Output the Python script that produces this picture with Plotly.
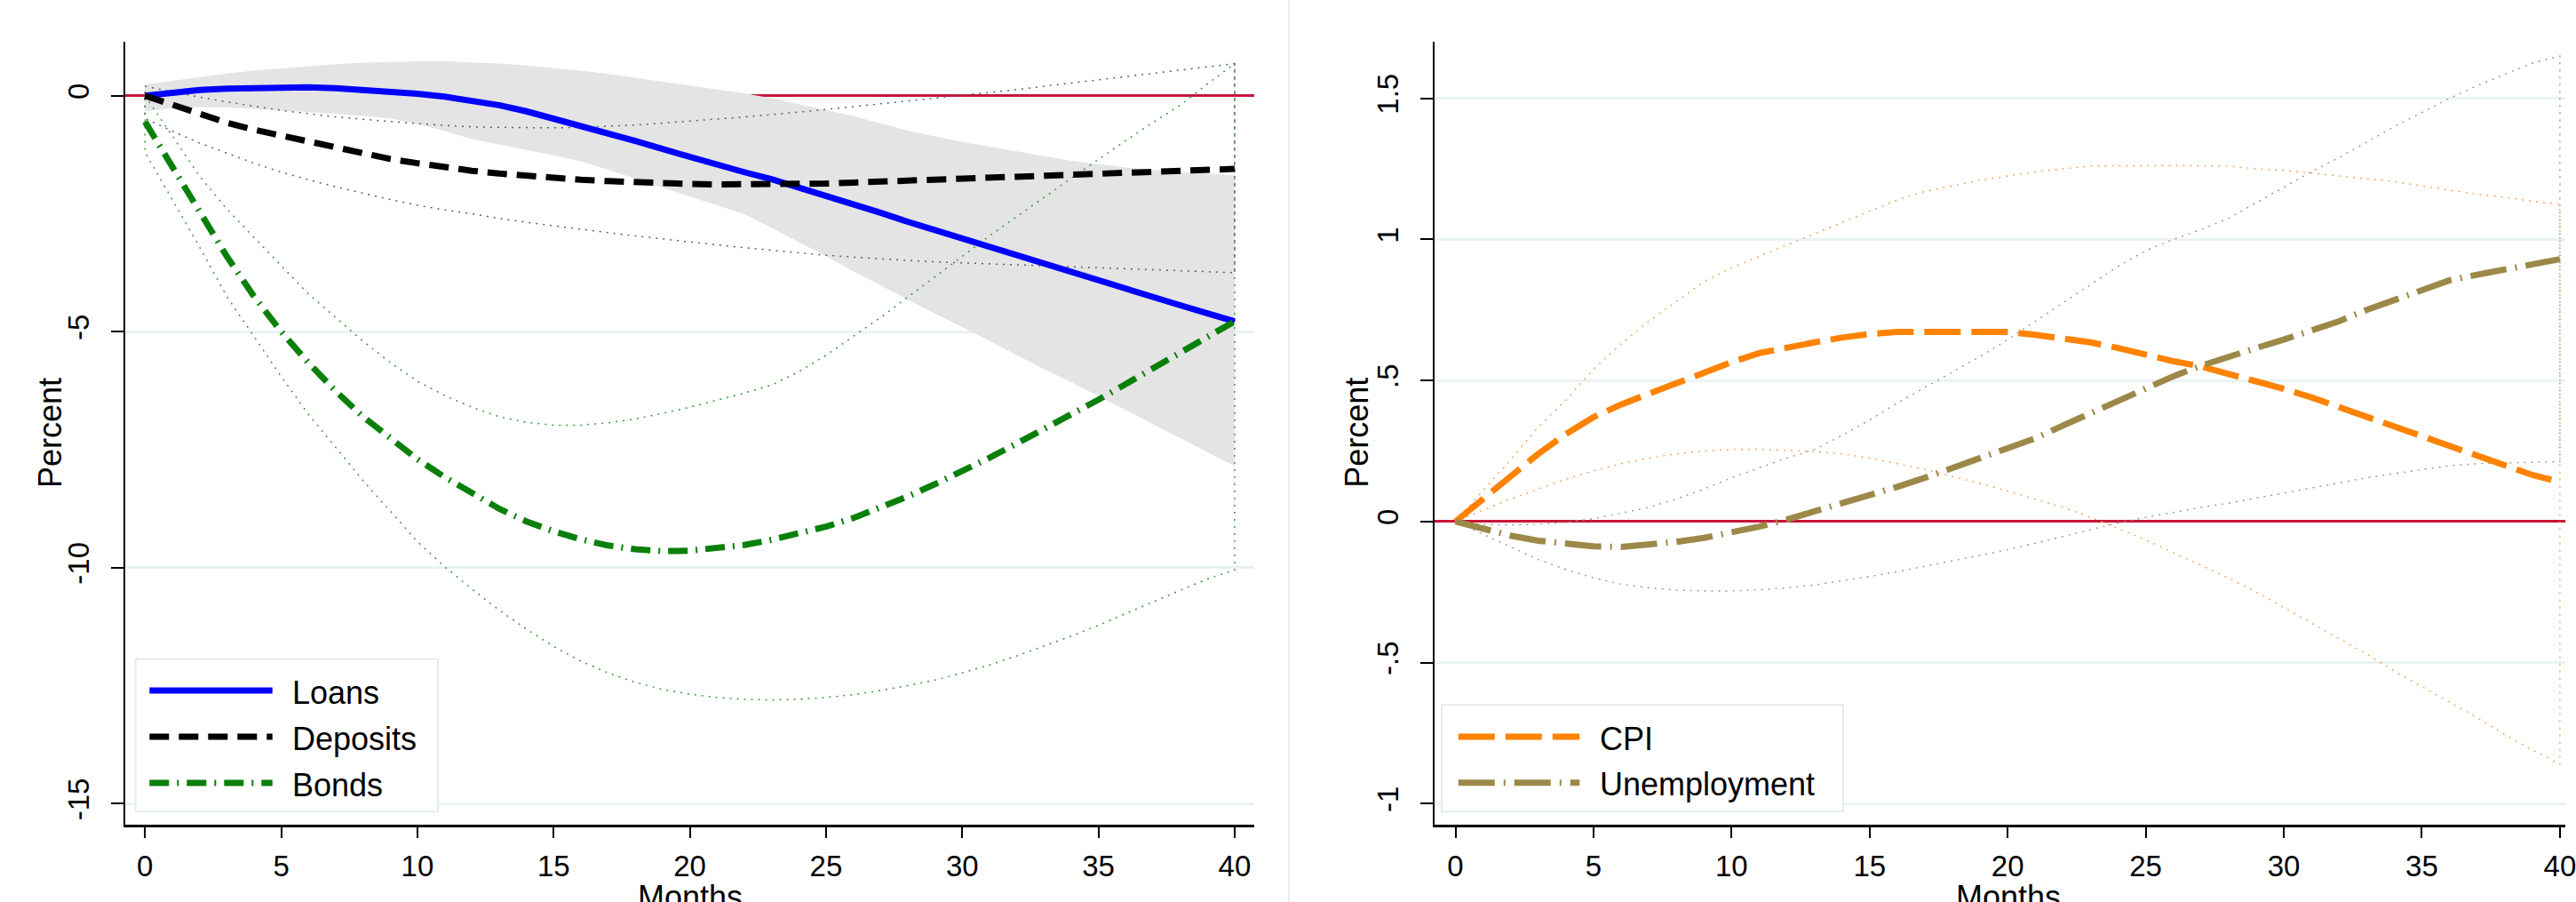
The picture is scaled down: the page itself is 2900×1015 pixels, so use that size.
import plotly.graph_objects as go

W, H = 2900, 1015

months = list(range(41))

# ---------------- Left panel data ----------------
loans = [0.0, 0.07, 0.12, 0.15, 0.17, 0.18, 0.18, 0.16, 0.13, 0.09, 0.04, -0.02, -0.1, -0.2, -0.33,
         -0.48, -0.65, -0.8, -0.96, -1.13, -1.3, -1.46, -1.62, -1.77, -1.94, -2.12, -2.3, -2.48, -2.67,
         -2.85, -3.03, -3.21, -3.39, -3.57, -3.75, -3.92, -4.1, -4.27, -4.44, -4.61, -4.78]
loans_hi = [0.24, 0.32, 0.4, 0.47, 0.53, 0.58, 0.63, 0.67, 0.7, 0.72, 0.73, 0.73, 0.71, 0.68, 0.64,
            0.59, 0.53, 0.46, 0.38, 0.3, 0.22, 0.13, 0.05, -0.05, -0.17, -0.3, -0.43, -0.58, -0.74,
            -0.86, -0.98, -1.08, -1.18, -1.28, -1.38, -1.45, -1.52, -1.57, -1.62, -1.65, -1.68]
loans_lo = [-0.33, -0.27, -0.24, -0.25, -0.28, -0.31, -0.34, -0.38, -0.43, -0.48, -0.6, -0.75, -0.92,
            -1.04, -1.15, -1.26, -1.39, -1.57, -1.76, -1.95, -2.13, -2.32, -2.51, -2.8, -3.1, -3.4,
            -3.72, -4.02, -4.33, -4.62, -4.9, -5.2, -5.5, -5.79, -6.07, -6.36, -6.66, -6.96, -7.25,
            -7.55, -7.85]

deposits = [0.0, -0.2, -0.4, -0.57, -0.72, -0.84, -0.96, -1.1, -1.23, -1.34, -1.43, -1.52, -1.59,
            -1.65, -1.7, -1.74, -1.78, -1.81, -1.84, -1.86, -1.87, -1.88, -1.88, -1.88, -1.87, -1.86,
            -1.84, -1.82, -1.8, -1.78, -1.76, -1.74, -1.72, -1.7, -1.68, -1.66, -1.64, -1.62, -1.6,
            -1.57, -1.55]
deposits_hi = [0.2, 0.08, -0.03, -0.13, -0.22, -0.31, -0.38, -0.45, -0.5, -0.55, -0.59, -0.63, -0.66,
               -0.67, -0.68, -0.68, -0.67, -0.65, -0.62, -0.58, -0.54, -0.5, -0.45, -0.4, -0.35, -0.29,
               -0.23, -0.17, -0.11, -0.05, 0.0, 0.06, 0.13, 0.2, 0.27, 0.33, 0.4, 0.47, 0.54, 0.61, 0.68]
deposits_lo = [-0.48, -0.75, -1.0, -1.22, -1.43, -1.62, -1.78, -1.93, -2.07, -2.2, -2.32, -2.42, -2.5,
               -2.6, -2.68, -2.76, -2.83, -2.9, -2.97, -3.04, -3.1, -3.16, -3.22, -3.28, -3.33, -3.38,
               -3.42, -3.46, -3.49, -3.52, -3.55, -3.57, -3.59, -3.61, -3.63, -3.65, -3.67, -3.69,
               -3.71, -3.73, -3.75]

bonds = [-0.55, -1.5, -2.47, -3.4, -4.25, -5.0, -5.66, -6.26, -6.8, -7.26, -7.7, -8.08, -8.42, -8.75,
         -9.02, -9.23, -9.4, -9.53, -9.61, -9.65, -9.64, -9.59, -9.52, -9.41, -9.28, -9.13, -8.95,
         -8.73, -8.49, -8.23, -7.96, -7.67, -7.37, -7.07, -6.76, -6.44, -6.11, -5.78, -5.45, -5.11,
         -4.78]
bonds_hi = [0.0, -0.85, -1.7, -2.4, -3.0, -3.6, -4.2, -4.7, -5.2, -5.65, -6.05, -6.35, -6.6, -6.8,
            -6.92, -6.98, -6.98, -6.93, -6.85, -6.73, -6.6, -6.45, -6.3, -6.13, -5.85, -5.5, -5.1,
            -4.7, -4.27, -3.84, -3.4, -2.97, -2.56, -2.15, -1.75, -1.35, -0.95, -0.57, -0.2, 0.25, 0.68]
bonds_lo = [-1.2, -2.2, -3.2, -4.25, -5.1, -5.95, -6.75, -7.45, -8.15, -8.8, -9.45, -9.98, -10.45,
            -10.9, -11.3, -11.67, -11.98, -12.23, -12.43, -12.58, -12.68, -12.75, -12.79, -12.8,
            -12.79, -12.75, -12.69, -12.6, -12.5, -12.38, -12.23, -12.06, -11.87, -11.66, -11.45,
            -11.22, -10.98, -10.73, -10.48, -10.24, -10.05]

# ---------------- Right panel data ----------------
cpi = [0.0, 0.08, 0.165, 0.24, 0.31, 0.37, 0.415, 0.455, 0.49, 0.527, 0.565, 0.597, 0.618, 0.635,
       0.652, 0.665, 0.672, 0.673, 0.673, 0.673, 0.672, 0.662, 0.65, 0.635, 0.615, 0.59, 0.568, 0.55,
       0.525, 0.497, 0.47, 0.44, 0.405, 0.372, 0.34, 0.3, 0.268, 0.235, 0.2, 0.165, 0.14]
cpi_hi = [0.0, 0.11, 0.22, 0.335, 0.43, 0.54, 0.63, 0.71, 0.78, 0.85, 0.9, 0.94, 0.98, 1.02, 1.06,
          1.1, 1.14, 1.17, 1.19, 1.21, 1.225, 1.24, 1.25, 1.26, 1.261, 1.262, 1.262, 1.261, 1.26,
          1.25, 1.245, 1.235, 1.225, 1.215, 1.205, 1.19, 1.175, 1.16, 1.15, 1.135, 1.125]
cpi_lo = [0.0, 0.04, 0.08, 0.115, 0.15, 0.18, 0.205, 0.225, 0.24, 0.25, 0.255, 0.256, 0.252, 0.248,
          0.24, 0.225, 0.205, 0.185, 0.16, 0.135, 0.108, 0.08, 0.05, 0.015, -0.025, -0.065, -0.11,
          -0.155, -0.2, -0.25, -0.305, -0.36, -0.415, -0.47, -0.53, -0.585, -0.64, -0.695, -0.755,
          -0.81, -0.86]

unemp = [0.0, -0.027, -0.05, -0.068, -0.08, -0.088, -0.09, -0.083, -0.072, -0.058, -0.04, -0.018,
         0.007, 0.035, 0.065, 0.095, 0.123, 0.155, 0.19, 0.223, 0.256, 0.295, 0.34, 0.385, 0.43,
         0.475, 0.515, 0.552, 0.585, 0.615, 0.645, 0.678, 0.71, 0.75, 0.785, 0.823, 0.855, 0.875,
         0.893, 0.908, 0.93]
unemp_hi = [0.0, -0.01, -0.012, -0.01, -0.003, 0.01, 0.03, 0.05, 0.08, 0.115, 0.155, 0.19, 0.225,
            0.255, 0.305, 0.36, 0.42, 0.475, 0.53, 0.585, 0.645, 0.71, 0.775, 0.84, 0.905, 0.96, 1.0,
            1.035, 1.075, 1.13, 1.185, 1.24, 1.29, 1.345, 1.4, 1.45, 1.5, 1.545, 1.585, 1.625, 1.65]
unemp_lo = [0.0, -0.045, -0.09, -0.135, -0.17, -0.2, -0.222, -0.235, -0.243, -0.246, -0.246, -0.242,
            -0.235, -0.225, -0.21, -0.195, -0.178, -0.16, -0.14, -0.12, -0.1, -0.077, -0.053, -0.028,
            -0.005, 0.015, 0.033, 0.05, 0.065, 0.082, 0.1, 0.118, 0.137, 0.155, 0.17, 0.185, 0.198,
            0.205, 0.208, 0.21, 0.212]

x_ticks = [0, 5, 10, 15, 20, 25, 30, 35, 40]
left_yticks = [-15, -10, -5, 0]
left_yticktext = ["-15", "-10", "-5", "0"]
right_yticks = [-1, -0.5, 0, 0.5, 1, 1.5]
right_yticktext = ["-1", "-.5", "0", ".5", "1", "1.5"]

left_names = ["Loans", "Deposits", "Bonds"]
right_names = ["CPI", "Unemployment"]

# ---------------- Styles ----------------
FONT = "Liberation Sans, Arial, Helvetica, sans-serif"
C_LOANS, C_DEP, C_BONDS = "#0000FF", "#000000", "#0A800A"
C_CPI, C_UNEMP = "#FF8200", "#9C8848"
C_ZERO = "#C8153A"
C_GRID = "#EAF2F3"
LW = 7
DASH_DEP = "22px,11px"
DASH_BONDS = "22px,9px,2px,9px"
DASH_CPI = "41px,12px"
DASH_UNEMP = "41px,10px,2px,10px"
DOT = "2px,6px"


def px_x(px):
    return px / W


def px_y(py):
    return 1 - py / H


def outline(lo, hi):
    xs = months + months[::-1] + [months[0]]
    ys = hi + lo[::-1] + [hi[0]]
    return xs, ys


fig = go.Figure()

# Left: shaded band for loans
fig.add_trace(go.Scatter(x=months, y=loans_hi, mode="lines", line=dict(width=0, color="#E4E4E4"),
                         hoverinfo="skip", showlegend=False, xaxis="x", yaxis="y"))
fig.add_trace(go.Scatter(x=months, y=loans_lo, mode="lines", line=dict(width=0, color="#E4E4E4"),
                         fill="tonexty", fillcolor="#E4E4E4", hoverinfo="skip", showlegend=False,
                         xaxis="x", yaxis="y"))
# Left: dotted CI outlines
dx, dy = outline(deposits_lo, deposits_hi)
fig.add_trace(go.Scatter(x=dx, y=dy, mode="lines", line=dict(color="#55606A", width=1.5, dash=DOT),
                         showlegend=False, xaxis="x", yaxis="y"))
bx, by = outline(bonds_lo, bonds_hi)
fig.add_trace(go.Scatter(x=bx, y=by, mode="lines", line=dict(color="#3C963C", width=1.5, dash=DOT),
                         showlegend=False, xaxis="x", yaxis="y"))
# Left: point estimates
fig.add_trace(go.Scatter(x=months, y=loans, mode="lines", name=left_names[0],
                         line=dict(color=C_LOANS, width=LW), showlegend=False, xaxis="x", yaxis="y"))
fig.add_trace(go.Scatter(x=months, y=deposits, mode="lines", name=left_names[1],
                         line=dict(color=C_DEP, width=LW, dash=DASH_DEP), showlegend=False,
                         xaxis="x", yaxis="y"))
fig.add_trace(go.Scatter(x=months, y=bonds, mode="lines", name=left_names[2],
                         line=dict(color=C_BONDS, width=LW, dash=DASH_BONDS), showlegend=False,
                         xaxis="x", yaxis="y"))

# Right: dotted CI outlines
cx, cy = outline(cpi_lo, cpi_hi)
fig.add_trace(go.Scatter(x=cx, y=cy, mode="lines", line=dict(color="#F5A055", width=1.4, dash=DOT),
                         showlegend=False, xaxis="x2", yaxis="y2"))
ux, uy = outline(unemp_lo, unemp_hi)
fig.add_trace(go.Scatter(x=ux, y=uy, mode="lines", line=dict(color="#9A9A80", width=1.4, dash=DOT),
                         showlegend=False, xaxis="x2", yaxis="y2"))
fig.add_trace(go.Scatter(x=months, y=cpi, mode="lines", name=right_names[0],
                         line=dict(color=C_CPI, width=LW, dash=DASH_CPI), showlegend=False,
                         xaxis="x2", yaxis="y2"))
fig.add_trace(go.Scatter(x=months, y=unemp, mode="lines", name=right_names[1],
                         line=dict(color=C_UNEMP, width=LW, dash=DASH_UNEMP), showlegend=False,
                         xaxis="x2", yaxis="y2"))

tickfont = dict(family=FONT, size=33, color="black")

xcommon = dict(tickmode="array", tickvals=x_ticks, ticktext=[str(v) for v in x_ticks],
               ticks="outside", ticklen=12, tickwidth=2, tickcolor="black", showline=True,
               linecolor="black", linewidth=3, showgrid=False, zeroline=False, tickfont=tickfont,
               ticklabelstandoff=4, ticklabeloverflow="allow", fixedrange=True)
ycommon = dict(tickmode="array", ticks="outside", ticklen=14, tickwidth=2, tickcolor="black",
               showline=True, linecolor="black", linewidth=2, showgrid=True, gridcolor=C_GRID,
               gridwidth=3, zeroline=True, zerolinecolor=C_ZERO, zerolinewidth=3,
               tickfont=tickfont, tickangle=-90, ticklabelstandoff=12, fixedrange=True)

fig.update_layout(
    width=W, height=H,
    margin=dict(l=0, r=0, t=0, b=0),
    paper_bgcolor="white", plot_bgcolor="white",
    font=dict(family=FONT, color="black"),
    showlegend=False,
    xaxis=dict(domain=[px_x(141.5), px_x(1418)], range=[-0.727, 40.724], anchor="y", **xcommon),
    yaxis=dict(domain=[px_y(927.7), px_y(46.7)], range=[-15.44, 1.149], anchor="x",
               tickvals=left_yticks, ticktext=left_yticktext, **ycommon),
    xaxis2=dict(domain=[px_x(1622), 1.0], range=[-0.747, 40.196], anchor="y2", **xcommon),
    yaxis2=dict(domain=[px_y(927.7), px_y(46.7)], range=[-1.0737, 1.7016], anchor="x2",
                tickvals=right_yticks, ticktext=right_yticktext, **ycommon),
)

shapes = []
# separator between panels
shapes.append(dict(type="line", xref="paper", yref="paper", x0=px_x(1457), x1=px_x(1457), y0=0, y1=1,
                   line=dict(color="#E6EEF0", width=2), layer="below"))

annotations = []


# custom legends
def legend_box(x0, x1, y0, y1, items, sx0, sx1, tx, rows):
    shapes.append(dict(type="rect", xref="paper", yref="paper", x0=px_x(x0), x1=px_x(x1),
                       y0=px_y(y1), y1=px_y(y0), fillcolor="white",
                       line=dict(color="#E3ECEE", width=2), layer="above"))
    for (name, color, dash), ry in zip(items, rows):
        shapes.append(dict(type="line", xref="paper", yref="paper", x0=px_x(sx0), x1=px_x(sx1),
                           y0=px_y(ry), y1=px_y(ry), line=dict(color=color, width=LW, dash=dash),
                           layer="above"))
        annotations.append(dict(xref="paper", yref="paper", x=px_x(tx), y=px_y(ry + 2), text=name,
                                showarrow=False, xanchor="left", yanchor="middle",
                                font=dict(family=FONT, size=36, color="black")))


legend_box(153.3, 495, 741.7, 913.3,
           [(left_names[0], C_LOANS, "solid"), (left_names[1], C_DEP, DASH_DEP),
            (left_names[2], C_BONDS, DASH_BONDS)],
           169, 308, 328, [777, 829, 881])
legend_box(1629.8, 2083.7, 793.3, 913.3,
           [(right_names[0], C_CPI, DASH_CPI), (right_names[1], C_UNEMP, DASH_UNEMP)],
           1648.6, 1785.7, 1806, [829, 880.7])

# axis titles
for cx_px in (56, 1534):
    annotations.append(dict(xref="paper", yref="paper", x=px_x(cx_px), y=px_y(487.2), text="Percent",
                            textangle=-90, showarrow=False, xanchor="center", yanchor="middle",
                            font=dict(family=FONT, size=36, color="black")))
for cx_px in (779.8, 2270):
    annotations.append(dict(xref="paper", yref="paper", x=px_x(cx_px), y=px_y(987), text="Months",
                            showarrow=False, xanchor="center", yanchor="top",
                            font=dict(family=FONT, size=36, color="black")))

fig.update_layout(shapes=shapes, annotations=annotations)

# Page fit: no body margin, clip anything past the figure edge (like the cropped original)
post = ("document.body.style.margin='0';"
        "document.documentElement.style.overflow='hidden';"
        "document.body.style.overflow='hidden';"
        "var gd=document.getElementById('{plot_id}');"
        "if(gd){gd.style.overflow='hidden';}")

fig.write_html("out.html", post_script=post, config={"displayModeBar": False})
